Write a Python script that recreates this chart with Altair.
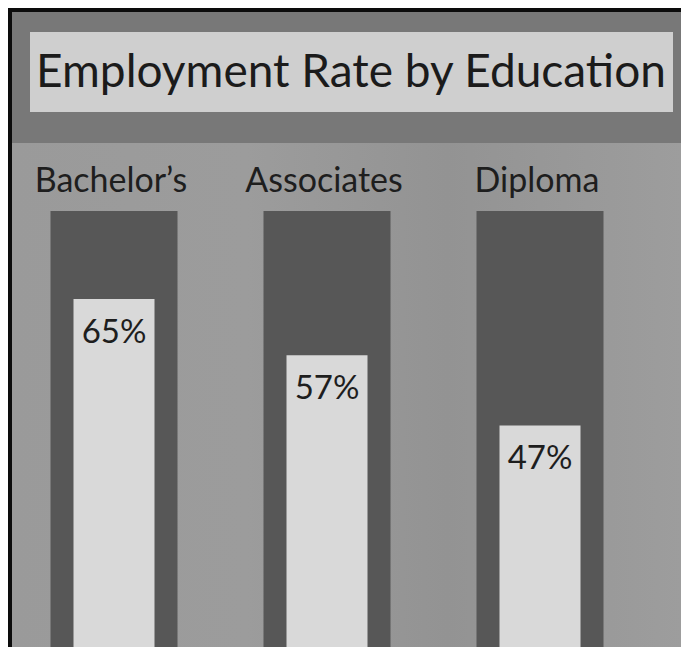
import altair as alt
import pandas as pd

# ---- data ----
categories = ["Bachelor\u2019s", "Associates", "Diploma"]
rates = [65, 57, 47]
rate_labels = ["65%", "57%", "47%"]
title_text = "Employment Rate by Education"

W, H = 681, 647
FONT = "Lato"

df = pd.DataFrame({"cat": categories, "rate": rates, "label": rate_labels})
one = pd.DataFrame({"a": [0]})

xscale = alt.Scale(type="point", domain=categories, range=[114, 540], padding=0)
yscale = alt.Scale(domain=[15.5, 107.5], zero=False, nice=False)

def panel(color, x0, x1, y0, y1):
    return alt.Chart(one).mark_rect(color=color).encode(
        x=alt.value(x0), x2=alt.value(x1), y=alt.value(y0), y2=alt.value(y1)
    )

border = panel("#0c0c0c", 8, W, 8, H)
main_bg = alt.Chart(one).mark_rect(
    color=alt.Gradient(
        gradient="linear",
        stops=[
            alt.GradientStop(color="#9a9a9a", offset=0),
            alt.GradientStop(color="#9c9c9c", offset=0.35),
            alt.GradientStop(color="#939393", offset=0.65),
            alt.GradientStop(color="#9d9d9d", offset=1),
        ],
        x1=0, x2=1, y1=0, y2=0,
    )
).encode(x=alt.value(12), x2=alt.value(W), y=alt.value(12), y2=alt.value(H))
header = panel("#787878", 12, W, 12, 143)
title_box = panel("#cfcfcf", 30, 673, 32, 112)

title = alt.Chart(one).mark_text(
    text=title_text, font=FONT, fontSize=46, color="#1b1b1b",
    align="center", baseline="alphabetic"
).encode(x=alt.value(351), y=alt.value(87))

tracks = alt.Chart(df).mark_bar(size=127, color="#575757").encode(
    x=alt.X("cat:N", scale=xscale, axis=None),
    y=alt.value(211), y2=alt.value(H),
)

bars = alt.Chart(df).mark_bar(size=81, color="#d9d9d9").encode(
    x=alt.X("cat:N", scale=xscale, axis=None),
    y=alt.Y("rate:Q", scale=yscale, axis=None),
    y2=alt.value(H),
)

cat_labels = alt.Chart(df).mark_text(
    font=FONT, fontSize=34, color="#1e1e1e", align="center", baseline="alphabetic", dx=-3
).encode(
    x=alt.X("cat:N", scale=xscale, axis=None),
    y=alt.value(192),
    text="cat:N",
)

val_labels = alt.Chart(df).mark_text(
    font=FONT, fontSize=33, color="#1e1e1e", align="center", baseline="alphabetic", dy=44
).encode(
    x=alt.X("cat:N", scale=xscale, axis=None),
    y=alt.Y("rate:Q", scale=yscale, axis=None),
    text="label:N",
)

chart = alt.layer(
    border, main_bg, header, title_box, title, tracks, bars, cat_labels, val_labels
).properties(
    width=W, height=H, padding=0, autosize=alt.AutoSizeParams(type="none"),
    background="white",
).configure_view(stroke=None)

chart.save("out.html", embed_options={"renderer": "svg", "actions": False})
